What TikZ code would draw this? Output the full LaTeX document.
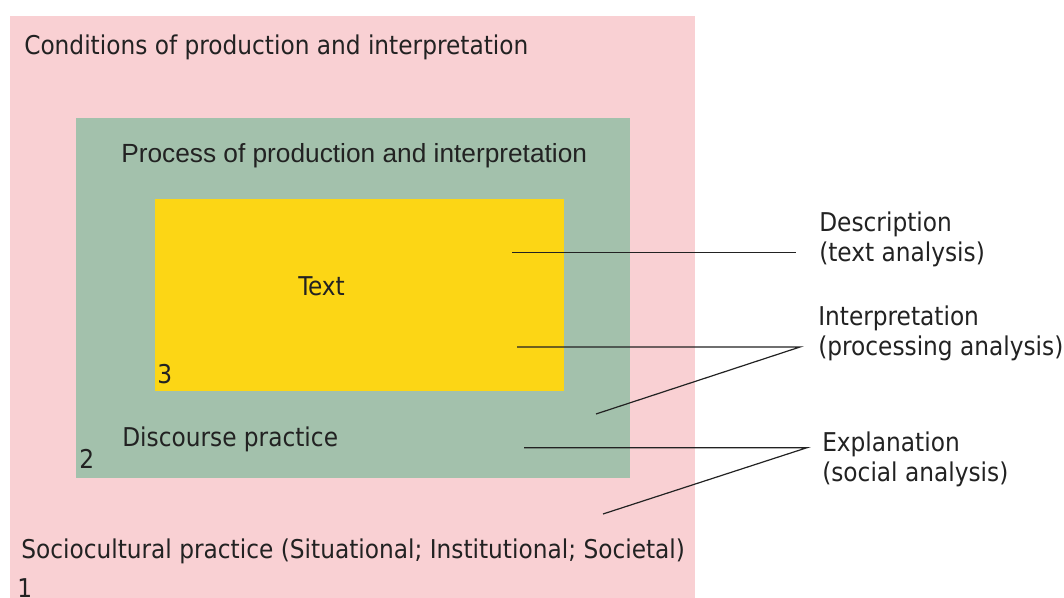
\documentclass[tikz,border=0pt]{standalone}
\usepackage{fontspec}
\IfFontExistsTF{DejaVu Sans Condensed}
  {\setmainfont{DejaVu Sans Condensed}}
  {\setmainfont{DejaVu Sans}}
\newfontfamily\arialfont{Liberation Sans}
\definecolor{ink}{HTML}{222222}
\definecolor{outerpink}{HTML}{F9D0D3}
\definecolor{midgreen}{HTML}{A3C1AC}
\definecolor{inneryellow}{HTML}{FCD615}
\begin{document}
\begin{tikzpicture}[x=0.75pt,y=-0.75pt,
  lbl/.style={anchor=base west,inner sep=0pt,text=ink,font=\fontsize{19.4}{24}\selectfont},
  alabel/.style={lbl,font=\arialfont\fontsize{19.7}{24}\selectfont},
  conn/.style={draw=ink,line width=0.9pt,line join=miter}]
\useasboundingbox (0,0) rectangle (1064,598);

% nested layers
\fill[outerpink] (10,16) rectangle (694.5,598);
\fill[midgreen] (76,118) rectangle (630,478);
\fill[inneryellow] (155,199) rectangle (563.5,391);

% layer texts
\node[lbl] (cond) at (24,55) {Conditions of production and interpretation};
\node[alabel] (proc) at (121,163) {Process of production and interpretation};
\node[lbl] (text) at (298,296) {Text};
\node[lbl] (n3) at (157,384) {3};
\node[lbl] (disc) at (122,446) {Discourse practice};
\node[lbl] (n2) at (79,469) {2};
\node[lbl] (soc) at (21,558) {Sociocultural practice (Situational; Institutional; Societal)};
\node[lbl] (n1) at (17,597.5) {1};

% analysis labels
\node[lbl] (desc) at (819,232) {Description};
\node[lbl] (descb) at (819,262) {(text analysis)};
\node[lbl] (interp) at (818,326) {Interpretation};
\node[lbl] (interpb) at (818,356) {(processing analysis)};
\node[lbl] (expl) at (822,451.5) {Explanation};
\node[lbl] (explb) at (822,481.5) {(social analysis)};

% connector end points
\coordinate (d1) at (512,252.7);
\coordinate (d2) at (796,252.7);
\coordinate (i1) at (517,347);
\coordinate (i0) at (800,347);
\coordinate (i2) at (596,414);
\coordinate (e1) at (524,447.7);
\coordinate (e0) at (807,447.7);
\coordinate (e2) at (603,514);

\draw[conn] (d1) -- (d2);
\draw[conn] (i1) -- (i0) -- (i2);
\draw[conn] (e1) -- (e0) -- (e2);
\end{tikzpicture}
\end{document}
